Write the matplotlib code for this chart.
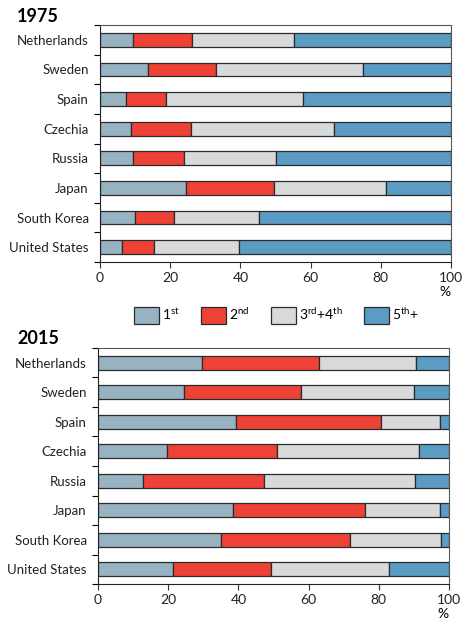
import matplotlib.pyplot as plt
from matplotlib.patches import Patch
import numpy as np

plt.rcParams['font.family'] = ['Lato', 'DejaVu Sans']
plt.rcParams['mathtext.fontset'] = 'custom'
plt.rcParams['mathtext.rm'] = 'Lato'
plt.rcParams['mathtext.it'] = 'Lato'

countries = ['Netherlands', 'Sweden', 'Spain', 'Czechia', 'Russia',
             'Japan', 'South Korea', 'United States']
labels = ['1$^{\\mathrm{st}}$', '2$^{\\mathrm{nd}}$',
          '3$^{\\mathrm{rd}}$+4$^{\\mathrm{th}}$', '5$^{\\mathrm{th}}$+']
colors = ['#97b3c1', '#ee4236', '#d7d9da', '#5b9cc5']

# shares (%) by birth order
first_1975 = [9.3, 13.8, 7.5, 8.8, 9.3, 24.4, 9.9, 6.2]
second_1975 = [16.8, 19.3, 11.2, 17.2, 14.5, 25.2, 11.2, 9.3]
third_fourth_1975 = [29.3, 41.7, 39.2, 40.8, 26.2, 31.8, 24.1, 24.1]
fifth_1975 = [44.6, 25.2, 42.1, 33.2, 50.0, 18.6, 54.8, 60.4]

first_2015 = [29.5, 24.6, 39.2, 19.8, 12.7, 38.6, 35.0, 21.5]
second_2015 = [33.4, 33.3, 41.3, 31.3, 34.6, 37.5, 36.8, 27.8]
third_fourth_2015 = [27.6, 32.0, 17.0, 40.3, 42.9, 21.4, 26.0, 33.7]
fifth_2015 = [9.5, 10.1, 2.5, 8.6, 9.8, 2.5, 2.2, 17.0]

data = {
    '1975': [first_1975, second_1975, third_fourth_1975, fifth_1975],
    '2015': [first_2015, second_2015, third_fourth_2015, fifth_2015],
}

fig = plt.figure(figsize=(4.66, 6.21), dpi=100)
W, H = 466, 621
boxes = {'1975': (100, 25, 451, 262), '2015': (98, 348, 449, 584)}

for year, series in data.items():
    x0, y0, x1, y1 = boxes[year]
    ax = fig.add_axes([x0 / W, 1 - y1 / H, (x1 - x0) / W, (y1 - y0) / H])
    y = np.arange(len(countries))
    left = np.zeros(len(countries))
    for vals, c in zip(series, colors):
        ax.barh(y, vals, left=left, height=0.46, color=c,
                edgecolor='#2b2b2b', linewidth=0.9)
        left += np.array(vals)
    ax.set_ylim(len(countries) - 0.5, -0.5)
    ax.set_xlim(0, 100)
    ax.set_yticks(y)
    ax.set_yticklabels(countries, fontsize=9.5, color='#222222')
    ax.set_yticks(np.arange(len(countries) + 1) - 0.5, minor=True)
    ax.tick_params(axis='y', which='major', length=0, pad=8)
    ax.tick_params(axis='y', which='minor', length=4, width=0.8,
                   direction='out')
    ax.set_xticks([0, 20, 40, 60, 80, 100])
    ax.tick_params(axis='x', labelsize=10, length=4, width=0.8,
                   direction='out', colors='#333333', labelcolor='#222222')
    for s in ax.spines.values():
        s.set_linewidth(0.8)
        s.set_color('#555555')
    ax.spines['left'].set_color('#222222')
    ax.spines['bottom'].set_color('#222222')
    ax.annotate('%', xy=(1.0, 0.0), xycoords='axes fraction',
                xytext=(0, -21.5), textcoords='offset points',
                ha='right', va='center', fontsize=10)
    fig.text(17 / W, 1 - (y0 - 9) / H, year, fontsize=13, fontweight='bold',
             va='center', ha='left')

handles = [Patch(facecolor=c, edgecolor='#2b2b2b', linewidth=0.9)
           for c in colors]
fig.legend(handles, labels, loc='center', bbox_to_anchor=(0.593, 1 - 315 / H),
           ncol=4, frameon=False, fontsize=10, handlelength=1.8,
           handleheight=1.5, handletextpad=0.2, columnspacing=1.55)

fig.savefig('out.png', dpi=100)
